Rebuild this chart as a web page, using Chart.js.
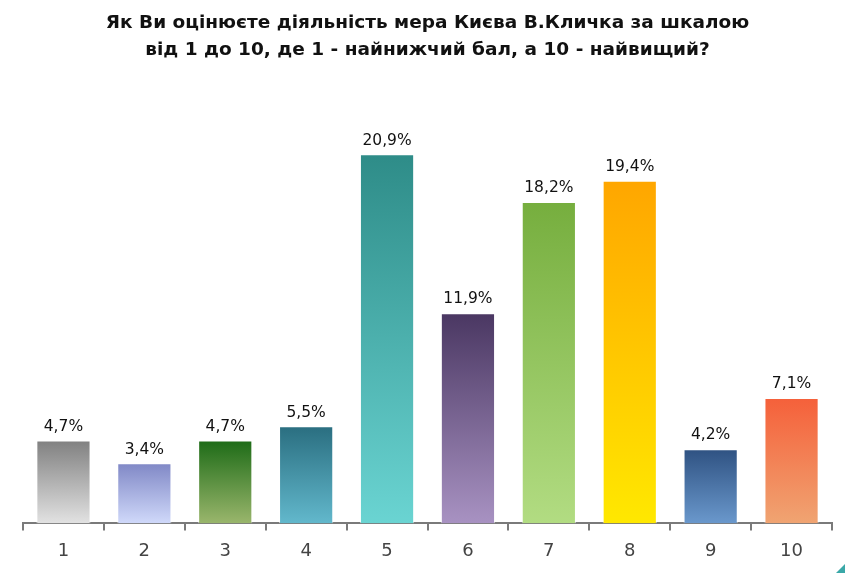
<!DOCTYPE html>
<html lang="uk">
<head>
    <meta charset="UTF-8">
    <title>Оцінка діяльності мера Києва</title>
    <style>
        html, body { margin: 0; padding: 0; background: #fff; }
        #wrap { position: relative; width: 845px; height: 573px; }
        #corner { position: absolute; right: 0; bottom: 0; width: 0; height: 0;
                  border-left: 9px solid transparent; border-bottom: 9px solid #3aa8a8; }
    </style>
</head>
<body>
    <div id="wrap">
        <canvas id="myChart" width="845" height="573"></canvas>
        <div id="corner"></div>
    </div>

    <script src="https://cdn.jsdelivr.net/npm/chart.js"></script>

    <script>
        const ctx = document.getElementById('myChart');

        // бали від 1 до 10
        const scores = ['1', '2', '3', '4', '5', '6', '7', '8', '9', '10'];
        // частка респондентів, %
        const shares = [4.7, 3.4, 4.7, 5.5, 20.9, 11.9, 18.2, 19.4, 4.2, 7.1];
        // кольори стовпчиків: верх -> низ
        const topColors = ['#808080', '#8088c6', '#1d6b17', '#2a6e80', '#2e8c88', '#4a3762', '#76ae3e', '#ffa600', '#2f5282', '#f5603a'];
        const bottomColors = ['#e2e2e2', '#d0d9fa', '#9ab66c', '#62b8cc', '#6ad4d2', '#a892c2', '#b2dc82', '#ffe800', '#6a98cc', '#f0a472'];

        const titleLines = [
            'Як Ви оцінюєте діяльність мера Києва В.Кличка за шкалою',
            'від 1 до 10, де 1 - найнижчий бал, а 10 - найвищий?'
        ];

        function barGradient(context) {
            const chart = context.chart;
            const area = chart.chartArea;
            const i = context.dataIndex;
            if (!area) return topColors[i];
            const y = chart.scales.y;
            const top = y.getPixelForValue(shares[i]);
            const bottom = y.getPixelForValue(0);
            const g = chart.ctx.createLinearGradient(0, top, 0, bottom);
            g.addColorStop(0, topColors[i]);
            g.addColorStop(1, bottomColors[i]);
            return g;
        }

        // підписи над стовпчиками
        const valueLabels = {
            id: 'valueLabels',
            afterDatasetsDraw(chart) {
                const c = chart.ctx;
                const meta = chart.getDatasetMeta(0);
                c.save();
                c.font = '15.5px "DejaVu Sans"';
                c.fillStyle = '#111';
                c.textAlign = 'center';
                c.textBaseline = 'bottom';
                meta.data.forEach((bar, i) => {
                    c.fillText(shares[i].toFixed(1).replace('.', ',') + '%', bar.x, bar.y - 6);
                });
                c.restore();
            }
        };

        new Chart(ctx, {
            type: 'bar',
            data: {
                labels: scores,
                datasets: [{
                    data: shares,
                    backgroundColor: barGradient,
                    borderColor: 'rgba(255,255,255,0.6)',
                    borderWidth: 1,
                    borderSkipped: 'bottom',
                    categoryPercentage: 1,
                    barPercentage: 0.67
                }]
            },
            options: {
                responsive: false,
                animation: false,
                layout: { padding: { left: 23, right: 13, bottom: 1 } },
                plugins: {
                    legend: { display: false },
                    tooltip: { enabled: false },
                    title: {
                        display: true,
                        text: titleLines,
                        color: '#111',
                        font: { family: 'DejaVu Sans', size: 18.5, weight: 'bold', lineHeight: 1.5 },
                        padding: { top: 9, bottom: 35 }
                    }
                },
                scales: {
                    x: {
                        border: { display: true, color: '#7a7a7a', width: 2 },
                        grid: { display: true, drawOnChartArea: false, offset: true, color: '#7a7a7a', lineWidth: 2, tickLength: 7 },
                        ticks: { color: '#444', font: { family: 'DejaVu Sans', size: 18 }, padding: 10 }
                    },
                    y: {
                        display: false,
                        min: 0,
                        max: 24
                    }
                }
            },
            plugins: [valueLabels]
        });
    </script>
</body>
</html>
